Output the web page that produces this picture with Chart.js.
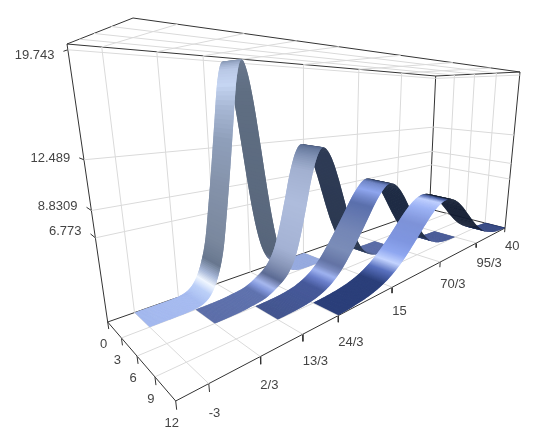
<!DOCTYPE html>
<html>
<head>
<meta charset="utf-8">
<style>
  html, body { margin: 0; padding: 0; background: #fff; }
  canvas { display: block; }
</style>
<script src="https://cdn.jsdelivr.net/npm/chart.js@4"></script>
</head>
<body>
<canvas id="ribbons" width="547" height="441"></canvas>
<script>
// tick values and labels of the three axes
const xTicks = [0, 3, 6, 9, 12];
const yTicks = [-3, 2 / 3, 13 / 3, 8, 15, 70 / 3, 95 / 3, 40];
const yTickLabels = ["-3", "2/3", "13/3", "24/3", "15", "70/3", "95/3", "40"];
const zTicks = [6.773, 8.8309, 12.489, 19.743];
const zTickLabels = ["6.773", "8.8309", "12.489", "19.743"];

// ribbon heights, evenly spaced from ribbonStart to ribbonEnd
const ribbonLeft = [0, 3, 6, 9];
const ribbonStart = [-3, 2 / 3, 13 / 3, 8];
const ribbonEnd = [15, 70 / 3, 95 / 3, 40];
const ribbon1 = [0, 0, 0, 0, 0, 0, 0.01, 0.04, 0.11, 0.29, 0.67, 1.4, 2.6, 4.45, 7.5, 10.9, 14.6, 18.2, 19.743,
  18.85, 16.43, 13.07, 9.48, 6.26, 3.77, 2.07, 1.05, 0.48, 0.2, 0.08, 0.03, 0.01, 0, 0, 0, 0, 0];
const ribbon2 = [0, 0, 0.01, 0.03, 0.07, 0.15, 0.22, 0.35, 0.6, 0.95, 1.35, 2, 3.1, 5, 7.4, 9.9, 11.7, 12.489,
  12.11, 11.05, 9.49, 7.67, 5.83, 4.17, 2.81, 1.77, 1.06, 0.59, 0.31, 0.15, 0.07, 0.03, 0.01, 0, 0];
const ribbon3 = [0.01, 0.03, 0.06, 0.11, 0.2, 0.35, 0.59, 0.94, 1.44, 2.11, 2.95, 3.85, 4.85, 5.85, 6.9, 7.8, 8.5, 8.8309,
  8.64, 8.07, 7.22, 6.17, 5.04, 3.95, 2.95, 2.11, 1.44, 0.94, 0.59, 0.35, 0.2, 0.11, 0.06, 0.03, 0.01];
const ribbon4 = [0.04, 0.07, 0.14, 0.23, 0.38, 0.6, 0.91, 1.34, 1.88, 2.54, 3.3, 4.11, 4.92, 5.66, 6.25, 6.64, 6.773,
  6.64, 6.25, 5.66, 4.92, 4.11, 3.3, 2.54, 1.88, 1.34, 0.91, 0.6, 0.38, 0.23, 0.14, 0.07, 0.04];
const ribbonValues = [ribbon1, ribbon2, ribbon3, ribbon4];

const xRange = [0, 12], yRange = [-5, 40], zRange = [0, 20.1];

// camera: where the corners of the box land, [x, y, depth], index is u + 2 * v + 4 * w
const boxCorners = [
  [107.7, 322, 1], [175.7, 401, 0.758], [429.5, 209, 1.955], [505, 228, 1.82],
  [67, 44, 0.854], [133, 18, 0.584], [435.7, 76, 1.908], [520, 72, 1.638]
];

// shading along each ribbon, [y, colour]
const ribbonShades = [
  [[-3, "#a3b8ee"], [1.2, "#a6bbf0"], [2, "#bcd0f8"], [2.4, "#f0f6ff"], [2.7, "#a8b8d8"], [3.05, "#68778f"], [3.5, "#7a889e"], [4.2, "#8492aa"],
   [4.75, "#8f9fba"], [5.1, "#a8b8d5"], [5.35, "#c5d5f2"], [5.6, "#b9c8e6"], [5.85, "#8f9fbd"], [6, "#7f8fa8"], [6.15, "#6a788e"],
   [6.8, "#5f6e82"], [9.7, "#56647a"], [10.5, "#7485b8"], [11, "#8fa4dc"], [15, "#8fa4dc"]],
  [[0.67, "#5d6fa9"], [5.3, "#5f72ae"], [5.87, "#8398dc"], [6.29, "#a6b8ee"], [6.65, "#8594c4"], [7.05, "#5c6b94"], [7.9, "#8492b4"], [8.7, "#a4b2d4"],
   [9.9, "#aebcdc"], [10.74, "#a2b0d0"], [11.41, "#7385a8"], [11.9, "#586a90"], [12.1, "#2f3c57"], [17.9, "#2b384f"], [19.1, "#3c4d78"],
   [20, "#4f62a0"], [23.33, "#4f62a0"]],
  [[4.33, "#44568f"], [9.13, "#46599a"], [9.97, "#6b80cc"], [10.56, "#9fb3f0"], [11, "#7a8bc0"], [11.45, "#6373a4"], [12.5, "#7b8db8"], [13.78, "#7486b6"],
   [15.47, "#5a6fac"], [16.56, "#8fa6ee"], [17.41, "#6f85c5"], [17.9, "#3c4f80"], [18.1, "#1f2c45"], [24.8, "#1f2c45"], [26, "#2f4172"],
   [26.9, "#3d5090"], [31.67, "#3d5090"]],
  [[8, "#2b3f7a"], [13.5, "#2b3f7a"], [14.9, "#5a72c0"], [15.9, "#c4d4ff"], [16.8, "#8fa7f0"], [18, "#7f96e0"], [19.75, "#7e93d8"],
   [21.45, "#9db3f5"], [22.7, "#c0d0ff"], [23.4, "#5a72b8"], [23.9, "#344880"], [24.1, "#131d33"], [32.5, "#131d33"], [34.2, "#22356b"],
   [35, "#2a3e7c"], [40, "#2a3e7c"]]
];

function project(x, y, z) {
  const u = (x - xRange[0]) / (xRange[1] - xRange[0]);
  const v = (y - yRange[0]) / (yRange[1] - yRange[0]);
  const w = (z - zRange[0]) / (zRange[1] - zRange[0]);
  let nx = 0, ny = 0, nd = 0;
  boxCorners.forEach((c, i) => {
    const k = (i & 1 ? u : 1 - u) * (i & 2 ? v : 1 - v) * (i & 4 ? w : 1 - w);
    nx += k * c[0] * c[2];
    ny += k * c[1] * c[2];
    nd += k * c[2];
  });
  return { x: nx / nd, y: ny / nd };
}

function hexRgb(hex) {
  return [1, 3, 5].map(i => parseInt(hex.substr(i, 2), 16));
}

function shadeAt(stops, y) {
  let i = 0;
  while (i < stops.length - 2 && stops[i + 1][0] < y) i++;
  const a = stops[i], b = stops[i + 1];
  const t = Math.min(1, Math.max(0, (y - a[0]) / (b[0] - a[0])));
  const ca = hexRgb(a[1]), cb = hexRgb(b[1]);
  return "rgb(" + ca.map((c, k) => Math.round(c + (cb[k] - c) * t)).join(",") + ")";
}

// Catmull-Rom between the read values so the ribbons bend smoothly
function smoothRibbon(vals, start, end) {
  const out = [];
  const step = (end - start) / (vals.length - 1);
  const parts = 10;
  for (let i = 0; i < vals.length - 1; i++) {
    const p0 = vals[Math.max(i - 1, 0)], p1 = vals[i], p2 = vals[i + 1], p3 = vals[Math.min(i + 2, vals.length - 1)];
    for (let s = 0; s < parts; s++) {
      const t = s / parts;
      const z = 0.5 * (2 * p1 + (p2 - p0) * t + (2 * p0 - 5 * p1 + 4 * p2 - p3) * t * t + (3 * p1 - p0 - 3 * p2 + p3) * t * t * t);
      out.push({ y: start + (i + t) * step, z: Math.max(z, 0) });
    }
  }
  out.push({ y: end, z: vals[vals.length - 1] });
  return out;
}

const GRID = "#dadada", BOX = "#333333";
const yInner = yTicks.slice(0, -1), xInner = xTicks.slice(1, -1);
const [x0, x1] = xRange, [y0, y1] = yRange, [z0, z1] = zRange;
const datasets = [];

function addLine(a, b, color) {
  datasets.push({
    data: [project(...a), project(...b)],
    showLine: true, borderColor: color, borderWidth: 1, pointRadius: 0
  });
}

// grid on the back wall, side wall, floor and top
yInner.forEach(y => {
  addLine([x0, y, z0], [x0, y, z1], GRID);
  addLine([x0, y, z0], [x1, y, z0], GRID);
  addLine([x0, y, z1], [x1, y, z1], GRID);
});
xInner.forEach(x => {
  addLine([x, y1, z0], [x, y1, z1], GRID);
  addLine([x, y0, z0], [x, y1, z0], GRID);
  addLine([x, y0, z1], [x, y1, z1], GRID);
});
zTicks.forEach(z => {
  addLine([x0, y0, z], [x0, y1, z], GRID);
  addLine([x0, y1, z], [x1, y1, z], GRID);
});

// box edges, the near vertical one is left out
addLine([x0, y0, z0], [x0, y1, z0], BOX);
addLine([x0, y1, z0], [x1, y1, z0], BOX);
addLine([x0, y0, z0], [x1, y0, z0], BOX);
addLine([x1, y0, z0], [x1, y1, z0], BOX);
addLine([x0, y0, z1], [x0, y1, z1], BOX);
addLine([x0, y1, z1], [x1, y1, z1], BOX);
addLine([x0, y0, z1], [x1, y0, z1], BOX);
addLine([x1, y0, z1], [x1, y1, z1], BOX);
addLine([x0, y0, z0], [x0, y0, z1], BOX);
addLine([x0, y1, z0], [x0, y1, z1], BOX);
addLine([x1, y1, z0], [x1, y1, z1], BOX);

// tick marks
xTicks.forEach(x => addLine([x, y0, z0], [x, y0, -0.6], BOX));
yTicks.forEach(y => addLine([x1, y, z0], [x1, y, -0.6], BOX));
zTicks.forEach(z => addLine([x0, y0, z], [-1.2, y0, z], BOX));

// each ribbon is a pair of edge datasets, filled in by the plugin below
const ribbonPairs = ribbonValues.map((vals, r) => {
  const pts = smoothRibbon(vals, ribbonStart[r], ribbonEnd[r]);
  const first = datasets.length;
  [ribbonLeft[r], ribbonLeft[r] + 3].forEach(x => {
    datasets.push({ data: pts.map(p => project(x, p.y, p.z)), showLine: false, pointRadius: 0 });
  });
  return { first, colors: pts.map(p => shadeAt(ribbonShades[r], p.y)) };
});

const ribbonPlugin = {
  id: "ribbonFill",
  afterDatasetsDraw(chart) {
    const ctx = chart.ctx;
    ribbonPairs.forEach(pair => {
      const a = chart.getDatasetMeta(pair.first).data;
      const b = chart.getDatasetMeta(pair.first + 1).data;
      // far end first, the near part of the ribbon covers it; each strip runs
      // under the next one so no seams show
      for (let i = a.length - 2; i >= 0; i--) {
        const j = Math.min(i + 2, a.length - 1);
        ctx.beginPath();
        ctx.moveTo(a[i].x, a[i].y);
        ctx.lineTo(a[j].x, a[j].y);
        ctx.lineTo(b[j].x, b[j].y);
        ctx.lineTo(b[i].x, b[i].y);
        ctx.closePath();
        ctx.fillStyle = pair.colors[i];
        ctx.fill();
      }
    });
  }
};

const labelPlugin = {
  id: "tickLabels",
  afterDraw(chart) {
    const ctx = chart.ctx;
    const sx = chart.scales.x, sy = chart.scales.y;
    const px = (x, y, z) => {
      const p = project(x, y, z);
      return { x: sx.getPixelForValue(p.x), y: sy.getPixelForValue(p.y) };
    };
    ctx.save();
    ctx.fillStyle = "#444444";
    ctx.font = "13px 'Liberation Sans', Arial, sans-serif";
    ctx.textBaseline = "middle";

    ctx.textAlign = "center";
    xTicks.forEach(x => {
      const p = px(x, y0, z0);
      ctx.fillText(String(x), p.x - 4, p.y + 22.5);
    });

    ctx.textAlign = "left";
    yTicks.forEach((y, i) => {
      const p = px(x1, y, z0);
      const v = (y - y0) / (y1 - y0);
      ctx.fillText(yTickLabels[i], p.x, p.y + 30 - 12 * v);
    });

    ctx.textAlign = "right";
    zTicks.forEach((z, i) => {
      const p = px(-1.2, y0, z);
      ctx.fillText(zTickLabels[i], p.x - 9, p.y - 2 + (z - 6.77) * 0.45);
    });
    ctx.restore();
  }
};

new Chart(document.getElementById("ribbons"), {
  type: "scatter",
  data: { datasets },
  options: {
    responsive: false,
    animation: false,
    layout: { padding: 0 },
    scales: {
      x: { type: "linear", min: 0, max: 547, display: false },
      y: { type: "linear", min: 0, max: 441, reverse: true, display: false }
    },
    plugins: { legend: { display: false }, tooltip: { enabled: false } }
  },
  plugins: [ribbonPlugin, labelPlugin]
});
</script>
</body>
</html>
